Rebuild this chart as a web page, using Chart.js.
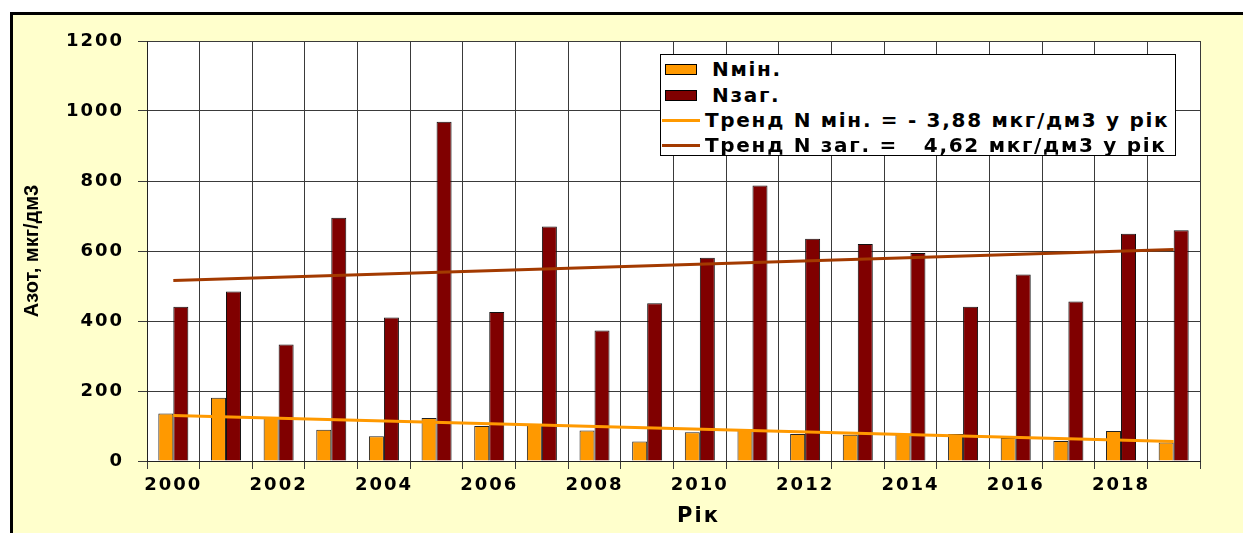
<!DOCTYPE html>
<html>
<head>
<meta charset="utf-8">
<script src="https://cdn.jsdelivr.net/npm/chart.js@4/dist/chart.umd.min.js"></script>
<style>
  html, body { margin: 0; padding: 0; background: #fff; }
  #wrap { position: relative; width: 1243px; height: 533px; }
  #legend {
    position: absolute; left: 660px; top: 54px; width: 516px; height: 102px;
    background: #fff; border: 1px solid #000; box-sizing: border-box;
    font: bold 20px "DejaVu Sans", sans-serif; letter-spacing: 1.7px; color: #000;
  }
  .row { position: absolute; left: 0; height: 24px; display: flex; align-items: center; white-space: pre; }
  .box { width: 30px; height: 9px; border: 1px solid #000; margin-left: 4px; margin-right: 15px; }
  .ln { width: 38px; height: 3px; margin-left: 1px; margin-right: 5px; }
</style>
</head>
<body>
<div id="wrap">
  <canvas id="chart" width="1243" height="533"></canvas>
  <div id="legend"></div>
</div>
<script>
const years = ['2000', '2001', '2002', '2003', '2004', '2005', '2006', '2007', '2008', '2009',
               '2010', '2011', '2012', '2013', '2014', '2015', '2016', '2017', '2018', '2019'];
const nMin = [136, 181, 126, 89, 71, 123, 100, 106, 87, 56, 82, 91, 77, 75, 76, 77, 66, 57, 86, 53];
const nZag = [441, 484, 333, 695, 410, 969, 426, 670, 373, 451, 581, 787, 635, 620, 594, 441, 533, 456, 649, 659];
// trend lines: only the end points, joined straight
const trendMin = [130, null, null, null, null, null, null, null, null, null,
                  null, null, null, null, null, null, null, null, null, 56];
const trendZag = [516, null, null, null, null, null, null, null, null, null,
                  null, null, null, null, null, null, null, null, null, 604];
const yTicks = [0, 200, 400, 600, 800, 1000, 1200];

const labels = {
    min: 'Nмін.',
    zag: 'Nзаг.',
    trendMin: 'Тренд N мін. = - 3,88 мкг/дм3 у рік',
    trendZag: 'Тренд N заг. =   4,62 мкг/дм3 у рік',
};

const WIDE = '"DejaVu Sans", sans-serif';
const NARROW = '"Liberation Sans", Arial, sans-serif';

// yellow frame behind everything, white plot area
const framePlugin = {
    id: 'frame',
    beforeDraw(chart) {
        const { ctx, chartArea } = chart;
        ctx.save();
        ctx.fillStyle = '#fff';
        ctx.fillRect(0, 0, chart.width, chart.height);
        ctx.fillStyle = '#FFFFCC';
        ctx.fillRect(10, 12, chart.width - 10, chart.height - 12);
        ctx.strokeStyle = '#000';
        ctx.lineWidth = 3;
        ctx.beginPath();
        ctx.moveTo(11.5, chart.height);
        ctx.lineTo(11.5, 13.5);
        ctx.lineTo(chart.width, 13.5);
        ctx.stroke();
        ctx.fillStyle = '#fff';
        ctx.fillRect(chartArea.left, chartArea.top, chartArea.right - chartArea.left, chartArea.bottom - chartArea.top);
        ctx.restore();
        // tick text in the original is drawn wide
        ctx.letterSpacing = '2px';
    }
};

// draw a scale title with its own spacing / shift
const patchTitle = (s, spacing, dx) => {
    if (s._titlePatched) return;
    const orig = s.drawTitle.bind(s);
    s.drawTitle = function () {
        const c = this.ctx;
        c.save();
        c.letterSpacing = spacing;
        c.translate(dx, 0);
        orig();
        c.restore();
    };
    s._titlePatched = true;
};

const chart = new Chart(document.getElementById('chart'), {
    type: 'bar',
    data: {
        labels: years,
        datasets: [
            { type: 'line', label: labels.trendMin, data: trendMin, borderColor: '#FF9900', borderWidth: 3,
              pointRadius: 0, spanGaps: true, order: 0 },
            { type: 'line', label: labels.trendZag, data: trendZag, borderColor: '#A33A00', borderWidth: 3,
              pointRadius: 0, spanGaps: true, order: 0 },
            { label: labels.min, data: nMin, backgroundColor: '#FF9900', borderColor: '#222', borderWidth: 1, order: 1 },
            { label: labels.zag, data: nZag, backgroundColor: '#800000', borderColor: '#111', borderWidth: 1, order: 1 },
        ],
    },
    options: {
        responsive: false,
        animation: false,
        layout: { padding: { left: 0, top: 41, right: 43, bottom: 0 } },
        datasets: { bar: { categoryPercentage: 0.57, barPercentage: 1.0 } },
        plugins: { legend: { display: false }, tooltip: { enabled: false } },
        scales: {
            x: {
                offset: true,
                grid: { offset: true, color: '#3a3a3a', lineWidth: 1, tickLength: 8 },
                border: { color: '#222', width: 1 },
                ticks: {
                    autoSkip: false, maxRotation: 0, padding: 6, color: '#000',
                    font: { family: WIDE, size: 18, weight: 'bold' },
                    callback: (v, i) => (i % 2 === 0 ? years[i] : ''),
                },
                title: { display: true, text: 'Рік', color: '#000', padding: { top: 0, bottom: 4 },
                         font: { family: WIDE, size: 21, weight: 'bold' } },
                afterFit: (s) => { s.height = 72; patchTitle(s, '2px', 25); },
            },
            y: {
                min: 0, max: 1200,
                afterBuildTicks: (s) => { s.ticks = yTicks.map((v) => ({ value: v })); },
                grid: { color: '#3a3a3a', lineWidth: 1, tickLength: 9 },
                border: { color: '#222', width: 1 },
                ticks: { padding: 14, color: '#000', font: { family: WIDE, size: 18, weight: 'bold' },
                         callback: (v) => String(v) },
                title: { display: true, text: 'Азот, мкг/дм3', color: '#000', padding: { top: 20, bottom: 0 },
                         font: { family: NARROW, size: 20, weight: 'bold' } },
                afterFit: (s) => { s.width = 147; patchTitle(s, '0px', 0); },
            },
        },
    },
    plugins: [framePlugin],
});

// legend box inside the plot, built from the datasets
const legendEl = document.getElementById('legend');
const order = [2, 3, 0, 1];
const rowTops = [2, 28, 53, 78];
order.forEach((di, k) => {
    const ds = chart.data.datasets[di];
    const row = document.createElement('div');
    row.className = 'row';
    row.style.top = rowTops[k] + 'px';
    const mark = document.createElement('span');
    if (ds.type === 'line') {
        mark.className = 'ln';
        mark.style.background = ds.borderColor;
    } else {
        mark.className = 'box';
        mark.style.background = ds.backgroundColor;
    }
    row.appendChild(mark);
    const txt = document.createElement('span');
    txt.textContent = ds.label;
    row.appendChild(txt);
    legendEl.appendChild(row);
});
</script>
</body>
</html>
